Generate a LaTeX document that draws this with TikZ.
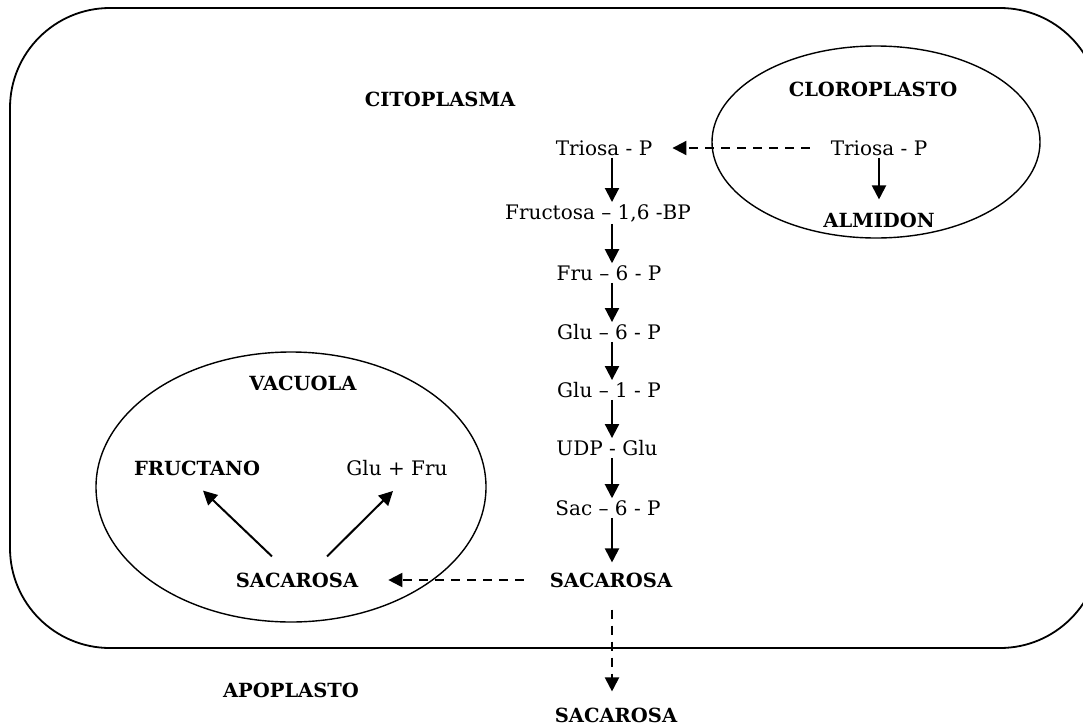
\documentclass[tikz,border=0pt]{standalone}
\usepackage{fontspec}
\setmainfont{DejaVu Serif}
\usetikzlibrary{arrows.meta}

\tikzset{
  texto/.style={font=\fontsize{20}{24}\selectfont, inner sep=2pt},
  negrita/.style={texto, font=\fontsize{19.5}{24}\selectfont\bfseries},
  flecha/.style={line width=2pt, -{Triangle[length=14pt,width=14pt]}},
  flechad/.style={flecha, dash pattern=on 9pt off 7pt},
  membrana/.style={line width=1.4pt},
}

\begin{document}
\begin{tikzpicture}[x=1pt,y=-1pt]
    \clip (0,0) rectangle (1083,726);
    % cell wall and organelles
    \draw[line width=1.8pt, rounded corners=100pt] (10,8) rectangle (1100,648);
    \draw[membrana] (876,142) ellipse [x radius=164, y radius=96];
    \draw[membrana] (291,487) ellipse [x radius=195, y radius=135];
    % compartment names
    \node[negrita] (cito) at (440,99) {CITOPLASMA};
    \node[negrita] (cloro) at (873,89) {CLOROPLASTO};
    \node[negrita] (vacuola) at (303,383) {VACUOLA};
    \node[negrita] (apo) at (291,690) {APOPLASTO};
    % chloroplast
    \node[texto] (tpc) at (879,148) {Triosa - P};
    \node[negrita] (almidon) at (879,220) {ALMIDON};
    % cytosolic pathway
    \coordinate (eje) at (612,0);
    \node[texto] (t1) at (604,148) {Triosa - P};
    \node[texto] (t2) at (598,213) {Fructosa – 1,6 -BP};
    \node[texto] (t3) at (609,273) {Fru – 6 - P};
    \node[texto] (t4) at (609,332) {Glu – 6 - P};
    \node[texto] (t5) at (609,390) {Glu – 1 - P};
    \node[texto] (t6) at (607,448) {UDP - Glu};
    \node[texto] (t7) at (608,508) {Sac – 6 - P};
    \node[negrita] (sac) at (611,580) {SACAROSA};
    \node[negrita] (sacb) at (616,715) {SACAROSA};
    % vacuole
    \node[negrita] (sacv) at (297,580) {SACAROSA};
    \node[negrita] (fruc) at (197,468) {FRUCTANO};
    \node[texto] (glufru) at (397,468) {Glu + Fru};
    % arrows
    \foreach \a/\b/\s in {t1/t2/0,t2/t3/0,t3/t4/0,t4/t5/0,t5/t6/0,t6/t7/0,t7/sac/8}
    \draw[flecha, shorten >=\s pt] (\a.south -| eje) -- (\b.north -| eje);
    \draw[flecha, shorten >=11pt] (tpc.south) -- (tpc.south |- almidon.north);
    \draw[flechad, shorten <=19pt, shorten >=18pt] (tpc.west) -- (t1.east);
    \draw[flechad, shorten <=24pt, shorten >=28pt] (sac.west) -- (sacv.east);
    \draw[flechad, shorten <=20pt, shorten >=14pt] (sac.south -| eje) -- (sacb.north -| eje);
    \draw[flecha] ([xshift=-25pt,yshift=14pt]sacv.north) -- ([xshift=6pt,yshift=-13pt]fruc.south);
    \draw[flecha] ([xshift=30pt,yshift=14pt]sacv.north) -- ([xshift=-4pt,yshift=-13pt]glufru.south);
\end{tikzpicture}
\end{document}
